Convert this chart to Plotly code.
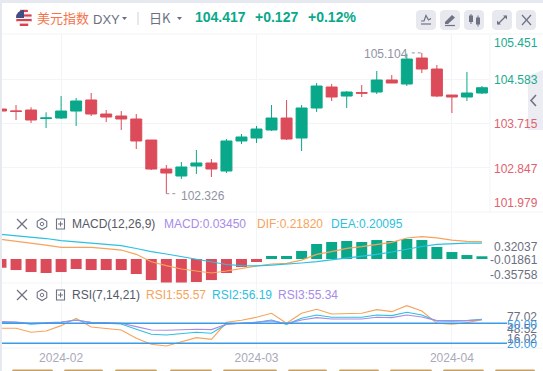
import math
import plotly.graph_objects as go

# ---------- data ----------
idx = list(range(33))
opens = [103.997,103.960,103.977,103.810,103.819,103.957,104.175,103.898,103.859,103.800,103.385,102.813,102.675,102.872,102.932,102.774,103.366,103.425,103.583,103.819,103.425,104.017,104.431,104.253,104.320,104.332,104.569,104.490,105.003,104.786,104.273,104.234,104.313]
highs = [103.997,104.076,104.031,103.932,104.253,104.214,104.313,103.977,103.957,103.898,103.385,102.892,102.951,103.188,103.010,103.405,103.504,103.662,104.076,104.175,104.076,104.510,104.490,104.352,104.470,104.747,104.668,105.090,105.104,104.865,104.273,104.727,104.451]
lows = [103.957,103.780,103.721,103.622,103.800,103.662,103.859,103.740,103.583,103.208,102.793,102.326,102.616,102.715,102.655,102.734,103.306,103.326,103.563,103.385,103.168,103.938,104.155,104.017,104.234,104.293,104.510,104.451,104.707,104.234,103.918,104.155,104.293]
closes = [103.957,103.950,103.780,103.820,103.957,104.155,103.898,103.839,103.800,103.366,102.813,102.734,102.853,102.932,102.813,103.366,103.445,103.602,103.819,103.405,104.017,104.451,104.234,104.332,104.310,104.569,104.510,104.983,104.786,104.253,104.234,104.313,104.417]
macd_hist = [-.110,-.139,-.164,-.176,-.164,-.126,-.139,-.139,-.139,-.189,-.265,-.302,-.302,-.290,-.265,-.176,-.101,-.038,.038,.038,.101,.189,.214,.227,.214,.239,.227,.252,.239,.151,.088,.050,.0345]
dif = [.248,.227,.202,.176,.147,.147,.147,.132,.113,.059,-.034,-.084,-.126,-.151,-.176,-.151,-.117,-.088,-.063,-.054,-.013,.059,.092,.135,.155,.185,.210,.265,.281,.265,.239,.223,.2182]
dea = [.311,.296,.277,.258,.231,.214,.202,.183,.168,.132,.092,.063,.029,-.006,-.042,-.069,-.084,-.086,-.076,-.067,-.050,-.034,-.013,.009,.032,.059,.088,.126,.158,.185,.195,.201,.20095]
rsi1 = [42.5,42.5,36.5,38.5,46.5,57.5,44.5,42,40,27.5,18.5,16,22,28.5,26,51.5,54.5,59,65,50,65,71,64,65,65,70.5,67.5,76.5,68.5,50,48.5,51,55.57]
rsi2 = [51.5,51.5,48.5,49.5,51.5,55,51,50,49,41,33.5,32.5,35,36.5,35,48.5,50,51.5,55,48.5,57.5,62.5,59,59,59,62.5,61.5,66.5,62.5,53.5,53,54,56.19]
rsi3 = [52.5,52,50,50.5,52,54.5,51.5,51,50,45,40,39.5,40.5,41,40.5,48.5,50,51.5,53.5,49.5,55,58.5,56.5,56.5,56.5,59,58.5,62.5,59.5,54,53.5,54,55.34]
month_pos = [4, 17, 30]
month_labels = ["2024-02", "2024-03", "2024-04"]
price_grid = [104.583, 103.715, 102.847]
price_labels = ["105.451", "104.583", "103.715", "102.847", "101.979"]
macd_labels = ["0.32037", "-0.01861", "-0.35758"]
rsi_levels = [50, 20]
high_val, high_i = 105.104, 28
low_val, low_i = 102.326, 11

# ---------- style ----------
W, H = 543, 371
GREEN, RED = "#09A88A", "#DC4B59"
ORANGE, CYAN, PURPLE = "#F7A35C", "#2DC0E0", "#A78BE8"
GRID, ICON = "#F3F4F8", "#6F7383"
FONT = "Liberation Sans"
CJK = "Noto Sans CJK SC"
PLOT_R = 490


def X(p):
    return p / W


def Y(p):
    return 1 - p / H


def xi(p):
    return (p - 1) / 15.03


shapes, notes = [], []


def rect(x0, y0, x1, y1, fill, layer="above"):
    shapes.append(dict(type="rect", xref="paper", yref="paper", x0=X(x0), x1=X(x1), y0=Y(y1), y1=Y(y0),
                       fillcolor=fill, line_width=0, layer=layer))


def path(points, fill=None, stroke=None, w=1.3, closed=False):
    d = "M" + " L".join(f"{X(a):.5f},{Y(b):.5f}" for a, b in points) + (" Z" if closed else "")
    shapes.append(dict(type="path", xref="paper", yref="paper", path=d, fillcolor=fill or "rgba(0,0,0,0)",
                       line=dict(color=stroke or "rgba(0,0,0,0)", width=w if stroke else 0), layer="above"))


def rrect(x0, y0, x1, y1, r, fill):
    pts = []
    for cx, cy, a0 in ((x1 - r, y0 + r, -90), (x1 - r, y1 - r, 0), (x0 + r, y1 - r, 90), (x0 + r, y0 + r, 180)):
        for k in range(5):
            t = math.radians(a0 + k * 22.5)
            pts.append((cx + r * math.cos(t), cy + r * math.sin(t)))
    path(pts, fill=fill, closed=True)


def text(x, y, s, color, size=12, anchor="left", family=FONT, bold=False):
    notes.append(dict(xref="paper", yref="paper", x=X(x), y=Y(y), text=f"<b>{s}</b>" if bold else s, showarrow=False,
                      xanchor=anchor, yanchor="middle", align=anchor, borderpad=0,
                      font=dict(size=size, color=color, family=family)))


fig = go.Figure()
fig.add_trace(go.Candlestick(x=idx, open=opens, high=highs, low=lows, close=closes, xaxis="x", yaxis="y",
                             increasing=dict(line=dict(color=GREEN, width=1), fillcolor=GREEN),
                             decreasing=dict(line=dict(color=RED, width=1), fillcolor=RED),
                             showlegend=False, hoverinfo="skip"))
fig.add_trace(go.Bar(x=idx, y=macd_hist, width=0.73, xaxis="x2", yaxis="y2", showlegend=False, hoverinfo="skip",
                     marker=dict(color=[GREEN if v >= 0 else RED for v in macd_hist], line_width=0)))
for vals, col in ((dif, ORANGE), (dea, CYAN)):
    fig.add_trace(go.Scatter(x=idx, y=vals, mode="lines", xaxis="x2", yaxis="y2", showlegend=False, hoverinfo="skip",
                             line=dict(color=col, width=1.2)))
for vals, col in ((rsi1, ORANGE), (rsi2, CYAN), (rsi3, PURPLE)):
    fig.add_trace(go.Scatter(x=idx, y=vals, mode="lines", xaxis="x3", yaxis="y3", showlegend=False, hoverinfo="skip",
                             line=dict(color=col, width=1.1)))

xr = [xi(0), xi(PLOT_R)]
base = dict(range=xr, tickmode="array", tickvals=month_pos, showgrid=True, gridcolor=GRID, gridwidth=1,
            zeroline=False, showline=False, ticks="", fixedrange=True)
fig.update_layout(
    width=W, height=H, autosize=False, margin=dict(l=0, r=0, t=0, b=0),
    paper_bgcolor="white", plot_bgcolor="white", showlegend=False, bargap=0.27, boxgap=0.27, boxgroupgap=0,
    xaxis=dict(base, domain=[0, X(PLOT_R)], anchor="y", showticklabels=False, rangeslider=dict(visible=False)),
    xaxis2=dict(base, domain=[0, X(PLOT_R)], anchor="y2", showticklabels=False),
    xaxis3=dict(base, domain=[0, X(PLOT_R)], anchor="y3", showticklabels=True, ticktext=month_labels,
                ticklabelstandoff=1, tickfont=dict(size=12, color="#A9A9B8", family=FONT)),
    yaxis=dict(domain=[Y(212), Y(34)], range=[101.965, 105.477], anchor="x", tickmode="array", tickvals=price_grid,
               showticklabels=False, showgrid=True, gridcolor=GRID, zeroline=False, fixedrange=True),
    yaxis2=dict(domain=[Y(283), Y(212)], range=[-.302, .592], anchor="x2", showticklabels=False, showgrid=False,
                zeroline=False, fixedrange=True),
    yaxis3=dict(domain=[Y(348), Y(283)], range=[12.95, 110.5], anchor="x3", showticklabels=False, showgrid=False,
                zeroline=False, fixedrange=True),
)

# pane separators and right divider
for yy in (34, 212, 283, 348):
    path([(2, yy), (543, yy)], stroke=GRID, w=1)
path([(PLOT_R, 34), (PLOT_R, 212)], stroke=GRID, w=1)

# RSI guide levels reach into the label column
for lv in rsi_levels:
    shapes.append(dict(type="line", xref="paper", yref="y3", x0=X(2), x1=X(507), y0=lv, y1=lv,
                       line=dict(color="#3A9BE8", width=1.4), layer="above"))

# extreme markers
for i0, i1, v in ((high_i - 0.67, high_i, high_val), (low_i, low_i + 0.67, low_val)):
    shapes.append(dict(type="line", xref="x", yref="y", x0=i0, x1=i1, y0=v, y1=v,
                       line=dict(color="#8F93A3", width=1, dash="dot"), layer="above"))
for i, v, anchor, sx, sy in ((high_i, high_val, "right", -12, -1), (low_i, low_val, "left", 13, -2)):
    notes.append(dict(xref="x", yref="y", x=i, y=v, text=f"{v:.3f}", showarrow=False, xanchor=anchor, yanchor="middle",
                      xshift=sx, yshift=sy, font=dict(size=12, color="#8F93A3", family=FONT)))

# axis labels
for s, yy, col in zip(price_labels, (43, 80, 124, 169, 203), ("#19AB90", "#19AB90", "#E2606D", "#E2606D", "#E2606D")):
    text(538.5, yy, s, col, anchor="right")
for s, yy in zip(macd_labels, (247, 260, 275)):
    text(538.5, yy, s, "#6B6F80", anchor="right")
for s, yy, col in (("77.02", 317, "#6B6F80"), ("48.52", 329, "#6B6F80"), ("16.02", 339, "#6B6F80"),
                   ("50.00", 325, "#3A9BE8"), ("20.00", 344, "#3A9BE8")):
    text(538, yy, s, col, anchor="right")

# page edge
rect(0, 0, 543, 3, "#E6E9F0")
rect(0, 0, 2, 371, "#E6E9F0")

# header: round flag
for cy, col in ((11, "#D9414F"), (13.3, "#F5F5F5"), (15.6, "#D9414F"), (17.9, "#F5F5F5"), (20.2, "#D9414F"),
                (22.5, "#F5F5F5"), (24.8, "#D9414F")):
    hw = math.sqrt(max(64 - (cy - 18) ** 2, 0))
    path([(24 - hw, cy), (24 + hw, cy)], stroke=col, w=2.4)
arc = [(24 + 8 * math.cos(math.radians(a)), 18 + 8 * math.sin(math.radians(a))) for a in range(180, 271, 15)]
path(arc + [(24, 18)], fill="#3C4F86", closed=True)
text(36, 18, "美元指数", "#F5734A", size=13, family=CJK)
text(92, 19, "DXY", "#6B7080", size=13)
path([(122, 17), (127, 17), (124.5, 20)], fill="#6B7080", closed=True)
path([(138, 12), (138, 25)], stroke="#CFD2DA", w=1)
text(148, 17, "日K", "#6B7080", size=13, family=CJK)
path([(177, 17), (182, 17), (179.5, 20)], fill="#6B7080", closed=True)
text(193.5, 17, "104.417", GREEN, size=14, bold=True)
text(254, 17, "+0.127", GREEN, size=14, bold=True)
text(307, 17, "+0.12%", GREEN, size=14, bold=True)

# header buttons
for a, b in ((416, 436), (440, 460), (464, 484), (492, 512), (516, 536)):
    rrect(a, 10, b, 30, 4, "#E7E9EF")
path([(421, 21), (424, 21), (426, 15.5), (428.5, 20), (431, 18.5)], stroke=ICON, w=1.2)
path([(421, 24), (431, 24)], stroke=ICON, w=1.2)
path([(445, 22), (452, 15), (455, 17.5), (448, 24), (445, 24)], fill=ICON, closed=True)
path([(445, 25.5), (455, 25.5)], stroke=ICON, w=1.2)
rect(469, 15.5, 473, 22, ICON)
rect(476, 17.5, 480, 24.5, ICON)
path([(471, 14), (471, 24)], stroke=ICON, w=1)
path([(478, 15.5), (478, 26.5)], stroke=ICON, w=1)
path([(498, 24), (506, 16)], stroke=ICON, w=1.3)
path([(503, 15.5), (507, 15.5), (507, 19.5)], fill=ICON, closed=True)
path([(497, 20.5), (497, 24.5), (501, 24.5)], fill=ICON, closed=True)
path([(522, 15), (531, 25)], stroke=ICON, w=1.2)
path([(531, 15), (522, 25)], stroke=ICON, w=1.2)


# indicator rows
def row(yc, items):
    path([(17, yc - 5), (27, yc + 5)], stroke=ICON, w=1.2)
    path([(27, yc - 5), (17, yc + 5)], stroke=ICON, w=1.2)
    hexa = [(42 + 5.5 * math.sin(math.radians(a)), yc - 5.5 * math.cos(math.radians(a))) for a in range(0, 360, 60)]
    path(hexa, stroke=ICON, w=1.1, closed=True)
    circ = [(42 + 1.8 * math.cos(math.radians(a)), yc + 1.8 * math.sin(math.radians(a))) for a in range(0, 360, 45)]
    path(circ, stroke=ICON, w=1, closed=True)
    path([(56.5, yc - 5), (64.5, yc - 5), (64.5, yc + 5), (56.5, yc + 5)], stroke=ICON, w=1.1, closed=True)
    path([(58, yc), (63, yc)], stroke=ICON, w=1)
    path([(60.5, yc - 2.5), (60.5, yc + 2.5)], stroke=ICON, w=1)
    for x, s, col in items:
        text(x, yc, s, col)


row(224, [(71, "MACD(12,26,9)", "#555866"), (163, "MACD:0.03450", PURPLE), (256, "DIF:0.21820", ORANGE),
          (330, "DEA:0.20095", CYAN)])
row(295, [(71, "RSI(7,14,21)", "#555866"), (145, "RSI1:55.57", ORANGE), (211, "RSI2:56.19", CYAN),
          (277, "RSI3:55.34", PURPLE)])

# side tab
path([(528, 76), (543, 70), (543, 130), (528, 130)], fill="#ECEDF2", closed=True)
path([(536, 95), (531, 100.5), (536, 106)], stroke=ICON, w=1.6)

# bottom strip
for a, b in ((12, 53), (64, 103), (115, 157), (170, 212), (223, 277), (288, 327), (339, 379), (390, 432), (443, 484), (495, 535)):
    rrect(a, 369.5, b, 374, 1.5, "#C9A063")

fig.update_layout(shapes=shapes, annotations=notes)
fig.write_html("out.html", config=dict(displayModeBar=False, responsive=False),
               post_script="document.body.style.margin='0';document.body.style.overflow='hidden';")
